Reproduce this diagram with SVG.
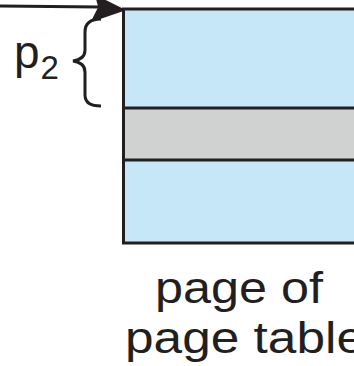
<svg xmlns="http://www.w3.org/2000/svg" width="354" height="366" viewBox="0 0 354 366">
  <style>
    .edge { stroke: #231f20; stroke-width: 3; fill: none; }
    .lbl { font-family: "Liberation Sans", Arial, sans-serif; fill: #231f20; }
  </style>
  <rect width="354" height="366" fill="#ffffff"/>

  <!-- page of the page table: three stacked entries -->
  <g id="page-table">
    <rect x="123.5" y="9" width="240" height="99" fill="#c6e7f8"/>
    <rect x="123.5" y="108" width="240" height="52" fill="#d0d1d1"/>
    <rect x="123.5" y="160" width="240" height="83" fill="#c6e7f8"/>
    <path class="edge" d="M364,9 H123.5 V243 H364 M123.5,108 H364 M123.5,160 H364"/>
    <text class="lbl" font-size="44" x="155" y="303" textLength="168" lengthAdjust="spacingAndGlyphs">page of</text>
    <text class="lbl" font-size="44" x="125" y="353" textLength="240" lengthAdjust="spacingAndGlyphs">page table</text>
  </g>

  <!-- p2 offset label with brace -->
  <g id="p2-label">
    <text class="lbl" x="14" y="68" font-size="46">p<tspan font-size="33" dy="11" dx="1">2</tspan></text>
    <path class="edge" d="M101,19 C91,19 85,23 85,32 L85,50 C85,57 80,60 73,61 C80,62 85,65 85,72 L85,95 C85,102 90,106 101,106"/>
  </g>

  <!-- incoming pointer -->
  <g id="connectors">
    <path class="edge" stroke-width="4" d="M0,6 L100,7"/>
    <polygon points="124,10 96,-4 99,7 92,21" fill="#231f20" stroke="#231f20" stroke-width="1.5" stroke-linejoin="round"/>
  </g>
</svg>
